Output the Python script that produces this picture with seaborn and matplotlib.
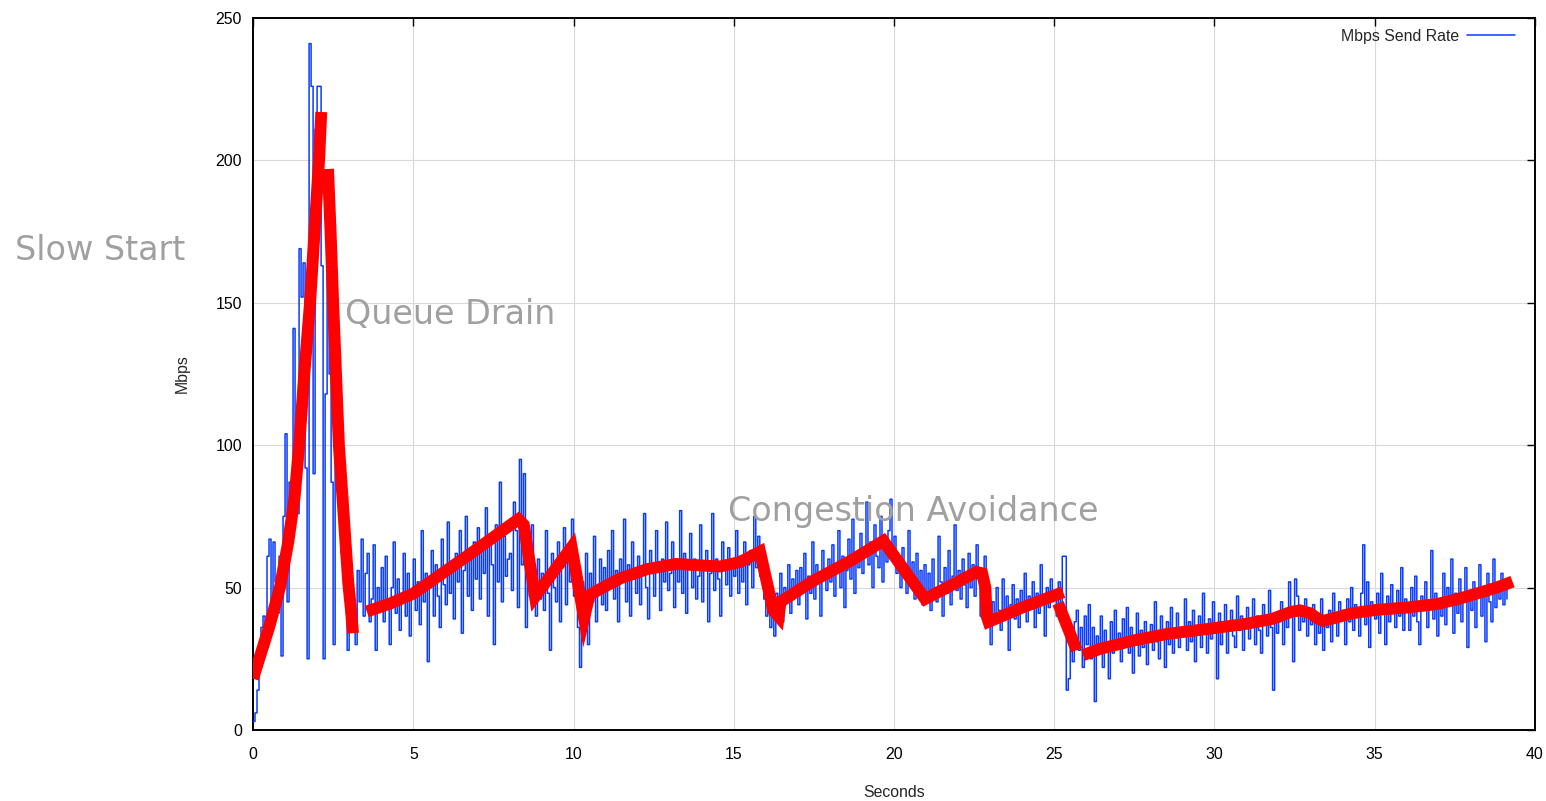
import matplotlib
matplotlib.use("Agg")
import numpy as np
import pandas as pd
import matplotlib.pyplot as plt
import seaborn as sns

# ---------------- data ----------------
sample_dt = 0.0625  # seconds between samples
send_rate = [
    3, 6, 14, 24, 36, 40, 31, 61, 67, 45, 66, 52, 41, 61, 26, 75,
    104, 45, 87, 68, 141, 89, 76, 169, 152, 164, 92, 25, 241, 226, 90, 211,
    226, 226, 163, 25, 118, 160, 125, 87, 30, 104, 95, 80, 62, 66, 48, 28,
    52, 36, 44, 30, 56, 45, 67, 40, 55, 62, 38, 46, 65, 28, 50, 42,
    57, 38, 61, 44, 30, 50, 66, 41, 53, 35, 48, 62, 40, 55, 33, 49,
    60, 42, 52, 37, 70, 45, 55, 24, 50, 63, 40, 58, 47, 36, 67, 51,
    44, 73, 48, 58, 39, 62, 52, 70, 34, 56, 75, 47, 60, 42, 66, 53,
    71, 46, 63, 55, 78, 40, 65, 58, 30, 72, 52, 87, 45, 68, 54, 60,
    62, 49, 80, 70, 43, 95, 58, 90, 36, 64, 47, 72, 52, 40, 60, 46,
    55, 42, 70, 48, 28, 62, 50, 45, 66, 38, 57, 71, 44, 60, 52, 74,
    47, 58, 36, 22, 52, 40, 62, 30, 55, 45, 68, 38, 50, 60, 44, 57,
    42, 63, 50, 70, 46, 56, 38, 60, 52, 74, 45, 58, 40, 66, 53, 48,
    61, 44, 57, 76, 50, 39, 63, 55, 47, 70, 58, 42, 60, 52, 73, 49,
    55, 66, 43, 59, 52, 77, 48, 62, 41, 57, 69, 50, 60, 46, 54, 72,
    45, 58, 63, 38, 55, 76, 49, 60, 53, 40, 66, 57, 51, 64, 47, 59,
    54, 70, 48, 61, 52, 66, 44, 58, 63, 50, 75, 57, 68, 54, 60, 46,
    40, 52, 36, 44, 33, 48, 42, 55, 38, 50, 45, 58, 41, 53, 47, 56,
    44, 57, 50, 62, 39, 54, 48, 66, 46, 58, 52, 40, 63, 55, 49, 60,
    52, 65, 47, 58, 70, 50, 61, 43, 56, 67, 53, 74, 48, 60, 57, 69,
    55, 63, 80, 58, 66, 50, 72, 61, 57, 75, 52, 64, 59, 70, 81, 62,
    68, 55, 60, 50, 64, 57, 48, 70, 53, 59, 46, 62, 51, 56, 44, 58,
    47, 55, 42, 60, 50, 45, 68, 52, 40, 57, 48, 63, 44, 54, 72, 49,
    56, 46, 60, 51, 43, 62, 50, 58, 47, 65, 53, 40, 55, 61, 48, 38,
    30, 45, 38, 50, 42, 35, 53, 40, 47, 28, 44, 51, 39, 46, 36, 49,
    42, 55, 38, 47, 44, 52, 36, 48, 41, 58, 45, 33, 50, 43, 53, 46,
    48, 40, 52, 44, 61, 61, 14, 18, 34, 24, 38, 42, 28, 36, 22, 40,
    30, 44, 25, 36, 10, 33, 28, 40, 22, 35, 31, 18, 38, 27, 42, 29,
    34, 24, 39, 30, 43, 27, 36, 20, 33, 41, 26, 35, 29, 38, 23, 32,
    37, 28, 45, 31, 25, 40, 34, 22, 38, 30, 43, 27, 35, 41, 29, 36,
    33, 46, 28, 38, 31, 42, 24, 36, 40, 29, 48, 34, 27, 39, 32, 45,
    35, 18, 41, 30, 38, 44, 27, 36, 42, 33, 29, 47, 35, 40, 28, 37,
    43, 32, 38, 46, 30, 40, 35, 27, 44, 37, 33, 49, 36, 14, 41, 34,
    38, 45, 30, 42, 36, 52, 40, 24, 53, 47, 35, 43, 38, 46, 33, 41,
    37, 44, 30, 39, 34, 46, 28, 40, 36, 42, 31, 48, 38, 33, 45, 39,
    42, 30, 46, 38, 50, 35, 44, 40, 33, 48, 65, 37, 52, 29, 45, 41,
    39, 48, 34, 55, 42, 30, 47, 38, 51, 44, 36, 49, 40, 57, 35, 46,
    43, 35, 50, 40, 54, 38, 30, 47, 42, 52, 36, 45, 63, 39, 48, 33,
    46, 40, 55, 37, 50, 44, 60, 34, 48, 41, 53, 38, 45, 57, 29, 49,
    42, 52, 36, 47, 58, 40, 49, 31, 55, 45, 38, 60, 43, 50, 46, 55,
    44, 50, 46,
]

# hand-drawn red annotation strokes
stroke_a_t = [0.0, 0.25, 0.5, 0.84, 1.1, 1.3, 1.44, 1.6, 1.78, 1.92, 2.06, 2.13]
stroke_a_v = [18, 27, 36, 50, 66, 82, 100, 125, 150, 175, 200, 217]
stroke_b_t = [2.34, 2.42, 2.5, 2.6, 2.68, 2.85, 2.97, 3.05, 3.12]
stroke_b_v = [197, 175, 150, 122, 100, 72, 52, 43, 34]
stroke_c_t = [3.55, 4.3, 5.0, 6.67, 8.28, 8.45, 8.8, 9.94, 10.33, 10.5, 10.83,
              11.45, 12.3, 13.2, 14.57, 15.2, 15.82, 16.23, 16.4, 16.46, 17.5,
              18.63, 19.67, 20.97, 22.58, 22.75, 22.85, 22.89, 22.95, 24.0, 25.28]
stroke_c_v = [41.6, 44.5, 47.9, 61, 74, 72, 46.8, 64.2, 39.3, 47.4, 49.5,
              53.2, 56.5, 58.3, 57.4, 59, 62.6, 42, 39.8, 45, 52.5,
              59.3, 66.4, 46, 55.5, 55, 50, 40, 38, 43, 48.4]
stroke_d_t = [25.12, 25.7]
stroke_d_v = [44.5, 28]
stroke_e_t = [25.9, 26.43, 27.5, 28.5, 29.8, 31.0, 31.8, 32.4, 32.67, 32.98,
              33.2, 33.39, 33.8, 34.3, 35.06, 36.0, 36.93, 37.6, 38.18, 38.8, 39.3]
stroke_e_v = [26.3, 28.5, 31.5, 33.7, 35.5, 37.3, 39, 41.5, 42, 41,
              39.3, 38.3, 39.5, 41, 42.2, 43, 44.2, 46, 47.9, 50, 52.1]

annotations = ["Slow Start", "Queue Drain", "Congestion Avoidance"]
series_label = "Mbps Send Rate"
x_ticks = [0, 5, 10, 15, 20, 25, 30, 35, 40]
y_ticks = [0, 50, 100, 150, 200, 250]

# ---------------- build frames ----------------
rate_df = pd.DataFrame({"Seconds": np.arange(len(send_rate)) * sample_dt,
                        "Mbps": send_rate})
strokes = [(stroke_a_t, stroke_a_v), (stroke_b_t, stroke_b_v),
           (stroke_c_t, stroke_c_v), (stroke_d_t, stroke_d_v),
           (stroke_e_t, stroke_e_v)]
red_df = pd.concat([pd.DataFrame({"t": t, "v": v, "stroke": i})
                    for i, (t, v) in enumerate(strokes)], ignore_index=True)

# ---------------- style ----------------
sns.set_theme(style="white")
plt.rcParams["font.family"] = ["Liberation Sans", "DejaVu Sans"]

W, H = 1546, 801
fig = plt.figure(figsize=(W / 100, H / 100), dpi=100)
ax = fig.add_axes([253 / W, 1 - 730 / H, (1535 - 253) / W, (730 - 18) / H])

blue = "#0a3cff"
sns.lineplot(data=rate_df, x="Seconds", y="Mbps", ax=ax, color=blue,
             linewidth=1.1, drawstyle="steps-post", label=series_label,
             zorder=3)
sns.lineplot(data=red_df, x="t", y="v", units="stroke", estimator=None,
             sort=False, ax=ax, color="#ff0000", linewidth=8.6, legend=False,
             zorder=4, solid_capstyle="butt", solid_joinstyle="miter")

ax.set_xlim(0, 40)
ax.set_ylim(0, 250)
ax.set_xticks(x_ticks)
ax.set_yticks(y_ticks)
ax.grid(True, color="#d9d9d9", linewidth=0.8, zorder=0)
ax.set_axisbelow(True)
for s in ax.spines.values():
    s.set_color("black")
    s.set_linewidth(1.4)
ax.tick_params(direction="in", length=6, width=1, top=True, right=True,
               labelsize=11.4, colors="black", pad=8)
ax.tick_params(axis="x", pad=12)
ax.set_xlabel("Seconds", fontsize=11.4)
ax.set_ylabel("Mbps", fontsize=11.4)
ax.xaxis.set_label_coords(0.5, -0.077)
ax.yaxis.set_label_coords(-0.049, 0.5)

leg = ax.legend(loc="upper right", bbox_to_anchor=(0.9893, 0.9934),
                frameon=False, markerfirst=False, fontsize=11.4,
                handlelength=3.0, handletextpad=0.5, borderaxespad=0)

hand = dict(color="#a0a0a0", fontsize=24, family=["DejaVu Sans"],
            va="center", ha="left", zorder=6)
fig.text(15 / W, 1 - 251 / H, annotations[0], **hand)
fig.text(345 / W, 1 - 314 / H, annotations[1], **hand)
fig.text(728 / W, 1 - 511 / H, annotations[2], **hand)

fig.savefig("out.png", dpi=100)
